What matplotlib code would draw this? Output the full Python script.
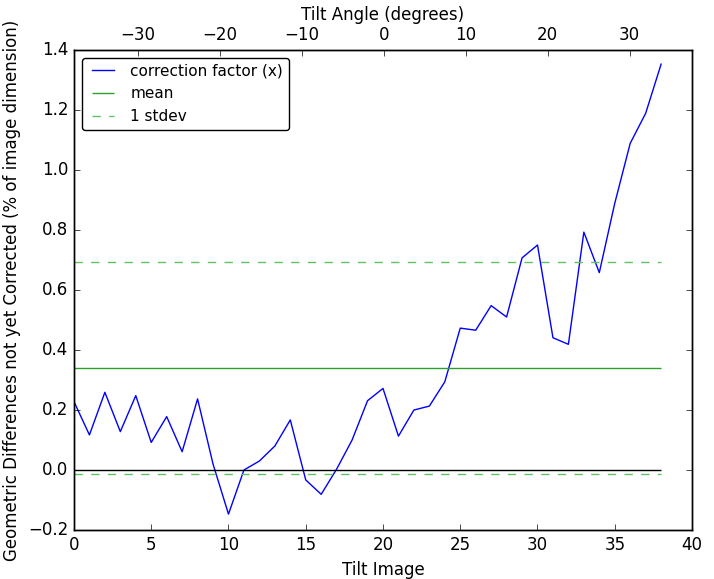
import numpy as np
import matplotlib.pyplot as plt

plt.style.use('classic')

# correction factor per tilt image
image = np.arange(39)
factor = [0.228, 0.117, 0.259, 0.128, 0.248, 0.092, 0.178, 0.061, 0.237, 0.02,
          -0.147, 0.0, 0.03, 0.08, 0.167, -0.033, -0.081, 0.003, 0.1, 0.231,
          0.272, 0.113, 0.2, 0.213, 0.294, 0.473, 0.466, 0.548, 0.51, 0.707,
          0.75, 0.441, 0.419, 0.793, 0.658, 0.889, 1.089, 1.189, 1.353]
angle_lim = (-37.8, 37.6)

factor = np.array(factor)
mean = factor.mean()
std = factor.std()

fig = plt.figure(figsize=(7.14, 5.79), dpi=100)
ax = fig.add_axes([0.1036, 0.0846, 0.8656, 0.829])

ax.plot(image, factor, 'b-', label='correction factor (x)')
ax.hlines(mean, image[0], image[-1], colors='#2ca02c', label='mean')
ax.hlines([mean + std, mean - std], image[0], image[-1], colors='#5fc35f',
          linestyles='dashed', label='1 stdev')
ax.hlines(0, image[0], image[-1], colors='k')

ax.set_xlim(0, 40)
ax.set_ylim(-0.2, 1.4)
ax.set_xlabel('Tilt Image')
ax.set_ylabel('Geometric Differences not yet Corrected (% of image dimension)')
ax.legend(loc='upper left', fontsize=11, fancybox=True)

ax2 = ax.twiny()
ax2.set_xlim(*angle_lim)
ax2.set_xlabel('Tilt Angle (degrees)')

fig.savefig('out.png', dpi=100)
